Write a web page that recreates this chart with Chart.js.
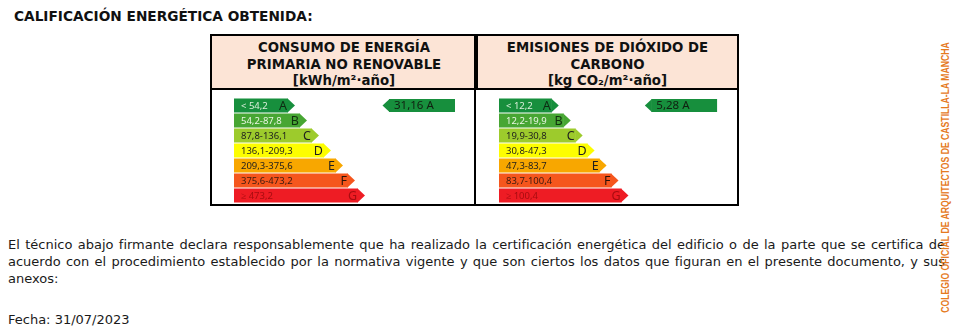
<!DOCTYPE html>
<html lang="es">
<head>
<meta charset="utf-8">
<title>Calificación energética obtenida</title>
<script src="https://cdn.jsdelivr.net/npm/chart.js@4/dist/chart.umd.min.js"></script>
<style>
  body { margin: 0; width: 961px; height: 332px; position: relative; overflow: hidden; background: #fff; color: #111; font-family: "DejaVu Sans", Verdana, sans-serif; }
  #titulo { position: absolute; left: 14px; top: 8px; font-size: 13.7px; font-weight: bold; white-space: nowrap; }
  #tabla { position: absolute; left: 210px; top: 34px; width: 529px; height: 172px; border: 2px solid #000; box-sizing: border-box; }
  .cab { position: absolute; top: 0; height: 54px; background: #fce4d6; border-bottom: 2px solid #000; box-sizing: border-box; text-align: center; font-weight: bold; font-size: 13.3px; line-height: 16.5px; padding-top: 4px; white-space: nowrap; }
  #cabEnergia { left: 0; width: 264px; }
  #cabEmisiones { left: 264px; width: 261px; border-left: 2px solid #000; }
  #divisor { position: absolute; left: 262px; top: 0; width: 2px; height: 168px; background: #000; }
  canvas { position: absolute; }
  #escalaEnergia { left: 2px; top: 56px; }
  #escalaEmisiones { left: 266px; top: 56px; }
  .linea { position: absolute; left: 8px; width: 937px; font-size: 13px; white-space: nowrap; color: #1a1a1a; }
  .just { text-align: justify; text-align-last: justify; }
  #colegio { position: absolute; left: 796px; top: 177px; width: 300px; height: 12px; line-height: 12px; text-align: center; transform: rotate(-90deg) scaleX(0.865); color: #e57a1e; font-family: "Liberation Sans", Arial, sans-serif; font-weight: bold; font-size: 10px; white-space: nowrap; }
</style>
</head>
<body>
<div id="titulo">CALIFICACIÓN ENERGÉTICA OBTENIDA:</div>

<div id="tabla">
  <div class="cab" id="cabEnergia">CONSUMO DE ENERGÍA<br>PRIMARIA NO RENOVABLE<br>[kWh/m²·año]</div>
  <div class="cab" id="cabEmisiones">EMISIONES DE DIÓXIDO DE<br>CARBONO<br>[kg CO₂/m²·año]</div>
  <div id="divisor"></div>
  <canvas id="escalaEnergia" width="262" height="114"></canvas>
  <canvas id="escalaEmisiones" width="261" height="114"></canvas>
</div>

<div class="linea just" style="top:237px">El técnico abajo firmante declara responsablemente que ha realizado la certificación energética del edificio o de la parte que se certifica de</div>
<div class="linea just" style="top:254px">acuerdo con el procedimiento establecido por la normativa vigente y que son ciertos los datos que figuran en el presente documento, y sus</div>
<div class="linea" style="top:271px">anexos:</div>
<div class="linea" style="top:312px">Fecha: 31/07/2023</div>

<div id="colegio">COLEGIO OFICIAL DE ARQUITECTOS DE CASTILLA-LA MANCHA</div>

<script>
// clases de la escala y sus colores
var clases = ['A', 'B', 'C', 'D', 'E', 'F', 'G'];
var coloresClase = ['#178f3d', '#47a633', '#9dcb2c', '#fdfd00', '#f8a700', '#f5561d', '#ee1c24'];

// limites entre clases
var limitesEnergia = [54.2, 87.8, 136.1, 209.3, 375.6, 473.2];
var limitesEmisiones = [12.2, 19.9, 30.8, 47.3, 83.7, 100.4];

// largo de cada flecha de la escala
var largoEnergia = [54, 66, 78, 90, 102, 114, 124];
var largoEmisiones = [53, 65, 77, 89, 101, 113, 123];

// valores obtenidos y tramo de la flecha indicadora
var valorEnergia = 31.16;
var valorEmisiones = 5.28;
var indicadorEnergia = [155, 221];
var indicadorEmisiones = [153, 219];

var escala = (function () {
  'use strict';

  function num (v) {
    return String(v).replace('.', ',');
  }

  // textos "< a", "a-b", ... "≥ b" a partir de los limites
  function rangos (limites) {
    var out = [];
    for (var i = 0; i <= limites.length; i++) {
      if (i === 0) out.push('< ' + num(limites[0]));
      else if (i === limites.length) out.push('≥ ' + num(limites[i - 1]));
      else out.push(num(limites[i - 1]) + '-' + num(limites[i]));
    }
    return out;
  }

  function claseDe (valor, limites) {
    for (var i = 0; i < limites.length; i++) {
      if (valor < limites[i]) return i;
    }
    return limites.length;
  }

  // dibuja las puntas de flecha y los textos sobre las barras
  var flechas = {
    id: 'flechas',
    afterDatasetsDraw: function (chart) {
      var ctx = chart.ctx;
      var cfg = chart.options.plugins.flechas;
      chart.data.datasets.forEach(function (ds, i) {
        var meta = chart.getDatasetMeta(i);
        meta.data.forEach(function (bar, j) {
          if (ds.data[j] === null) return;
          var p = bar.getProps(['x', 'y', 'base', 'height'], true);
          var h = p.height / 2;
          var top = p.y - h;
          var bot = p.y + h;
          ctx.save();
          ctx.fillStyle = Array.isArray(ds.backgroundColor) ? ds.backgroundColor[j] : ds.backgroundColor;
          ctx.beginPath();
          if (ds.punta === 'izq') {
            var x0 = Math.min(p.x, p.base);
            ctx.moveTo(x0 + 0.5, top);
            ctx.lineTo(x0 - h, p.y);
            ctx.lineTo(x0 + 0.5, bot);
          } else {
            ctx.moveTo(p.x - 0.5, top);
            ctx.lineTo(p.x + h, p.y);
            ctx.lineTo(p.x - 0.5, bot);
          }
          ctx.closePath();
          ctx.fill();

          ctx.textBaseline = 'middle';
          if (ds.punta === 'izq') {
            ctx.font = '11.5px "Noto Sans"';
            ctx.fillStyle = '#102010';
            ctx.textAlign = 'left';
            ctx.fillText(cfg.texto, Math.min(p.x, p.base) + 5, p.y + 0.5);
          } else {
            ctx.font = '9.5px "Noto Sans"';
            ctx.fillStyle = cfg.colorRango[j];
            ctx.textAlign = 'left';
            ctx.fillText(cfg.rangos[j], p.base + 7, p.y + 0.5);
            ctx.font = '12.5px "Noto Sans"';
            ctx.fillStyle = cfg.colorLetra[j];
            ctx.textAlign = 'right';
            ctx.fillText(clases[j], p.x - 1, p.y + 0.5);
          }
          ctx.restore();
        });
      });
    }
  };

  function dibujar (id, largos, limites, valor, tramo, izquierda) {
    var fila = claseDe(valor, limites);
    var indicador = clases.map(function (c, k) { return k === fila ? tramo : null; });
    new Chart(document.getElementById(id), {
      type: 'bar',
      data: {
        labels: clases,
        datasets: [{
          data: largos,
          backgroundColor: coloresClase,
          borderWidth: 0,
          barPercentage: 14 / 15,
          categoryPercentage: 1
        }, {
          data: indicador,
          backgroundColor: coloresClase[fila],
          borderWidth: 0,
          punta: 'izq',
          barPercentage: 13 / 15,
          categoryPercentage: 1
        }]
      },
      options: {
        indexAxis: 'y',
        responsive: false,
        animation: false,
        events: [],
        layout: { padding: { left: izquierda, right: 262 - izquierda - 240, top: 6, bottom: 3 } },
        datasets: { bar: { grouped: false } },
        scales: {
          x: { display: false, min: 0, max: 240 },
          y: { display: false }
        },
        plugins: {
          legend: { display: false },
          tooltip: { enabled: false },
          flechas: {
            rangos: rangos(limites),
            texto: num(valor) + ' ' + clases[fila],
            colorRango: ['#d9eed9', '#eaf6e4', '#1e1e1e', '#1e1e1e', '#1e1e1e', '#3a1a10', '#a80c10'],
            colorLetra: ['#0d2a12', '#11300e', '#1e1e1e', '#1e1e1e', '#1e1e1e', '#2a1208', '#a80c10']
          }
        }
      },
      plugins: [flechas]
    });
  }

  function init () {
    dibujar('escalaEnergia', largoEnergia, limitesEnergia, valorEnergia, indicadorEnergia, 20);
    dibujar('escalaEmisiones', largoEmisiones, limitesEmisiones, valorEmisiones, indicadorEmisiones, 21);
  }

  return {
    init: init
  };
}());

escala.init();
</script>
</body>
</html>
